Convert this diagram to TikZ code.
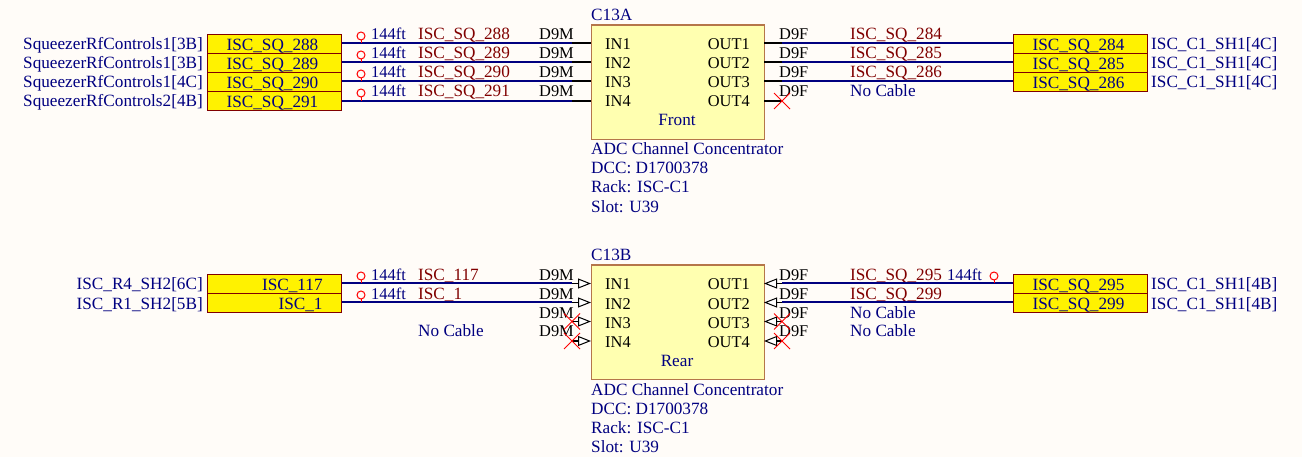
\documentclass[tikz,border=0pt]{standalone}
\usepackage{fontspec}
\setmainfont{Liberation Serif}
\usetikzlibrary{arrows.meta}
\definecolor{bgc}{HTML}{FFFCF8}
\definecolor{navy}{HTML}{000080}
\definecolor{maroon}{HTML}{800000}
\definecolor{boxedge}{HTML}{B5764A}
\definecolor{boxfill}{HTML}{FFFFB0}
\tikzset{
  every node/.style={font=\fontsize{17.2}{19}\selectfont},
  pinfont/.style={font=\fontsize{16.4}{18}\selectfont},
  portbox/.style={draw=maroon,line width=1.2pt,fill=yellow,text=navy,minimum height=19pt,
    text width=96pt,inner xsep=19pt,inner ysep=0pt,text height=16pt,text depth=3pt,anchor=north west,align=left},
  portboxr/.style={portbox,align=right},
  unit/.style={draw=boxedge,line width=1.2pt,fill=boxfill,anchor=north west,minimum width=173pt,minimum height=114.5pt,inner sep=0pt},
  lab/.style={anchor=base west,inner sep=0pt},
  labr/.style={anchor=base east,inner sep=0pt},
  labc/.style={anchor=base,inner sep=0pt},
  navytext/.style={text=navy},
  redtext/.style={text=maroon},
  wire/.style={draw=navy,line width=2pt},
  stub/.style={draw=black,line width=2pt},
  feed/.style={draw=black,line width=1.6pt,-{Triangle[open,fill=white,length=13pt,width=10pt,line width=1pt]}},
  lenmark/.style={draw=red,line width=1pt,circle,minimum size=8pt,inner sep=0pt},
  stem/.style={draw=red,line width=1pt},
  nocon/.style={draw=red,line width=0.8pt},
}
\begin{document}
\begin{tikzpicture}[x=1pt,y=-1pt]
\useasboundingbox (0,0) rectangle (1302,457);
\fill[bgc] (0,0) rectangle (1302,457);

% units
\node[unit] (A) at (591,24.5) {};
\node[unit] (B) at (591,264.5) {};
\node[lab,navytext] (Aname) at (591,20.5) {C13A};
\node[lab,navytext] (Bname) at (591,260.5) {C13B};
\node[labc,navytext] (Afront) at (677,126) {Front};
\node[labc,navytext] (Brear) at (677,366) {Rear};
\foreach \dy/\nm in {0/A,240/B}{
  \node[lab,navytext] (\nm d1) at (591,155+\dy) {ADC Channel Concentrator};
  \node[lab,navytext] (\nm d2) at (591,174+\dy) {DCC: D1700378};
  \node[lab,navytext] (\nm d3) at (591,193+\dy) {Rack: ISC-C1};
  \node[lab,navytext] (\nm d4) at (591,212.5+\dy) {Slot: U39};
}

% pin coordinates and pin names
\foreach \nm/\dy in {A/0,B/240}{
  \foreach \n/\y/\b in {1/43.5/50,2/62.5/69,3/81.5/88,4/101/107}{
    \coordinate (\nm in\n) at (591,\y+\dy);
    \coordinate (\nm inj\n) at (572,\y+\dy);
    \coordinate (\nm out\n) at (764,\y+\dy);
    \coordinate (\nm outj\n) at (782,\y+\dy);
    \node[lab,pinfont] (\nm inl\n) at (605,\b+\dy) {IN\n};
    \node[labr,pinfont] (\nm outl\n) at (750,\b+\dy) {OUT\n};
    \node[lab,pinfont] (\nm dm\n) at (539,\b-10+\dy) {D9M};
    \node[lab,pinfont] (\nm df\n) at (779,\b-10+\dy) {D9F};
  }
}

% ports left, unit A
\node[portbox] (p288) at (207,34) {ISC\_SQ\_288};
\node[portbox] (p289) at (207,53) {ISC\_SQ\_289};
\node[portbox] (p290) at (207,72) {ISC\_SQ\_290};
\node[portbox] (p291) at (207,91) {ISC\_SQ\_291};
% ports right, unit A
\node[portbox] (p284) at (1013,34) {ISC\_SQ\_284};
\node[portbox] (p285) at (1013,53) {ISC\_SQ\_285};
\node[portbox] (p286) at (1013,72) {ISC\_SQ\_286};
% ports unit B
\node[portboxr] (p117) at (207,274) {ISC\_117};
\node[portboxr] (p1) at (207,293) {ISC\_1};
\node[portbox] (p295) at (1013,274) {ISC\_SQ\_295};
\node[portbox] (p299) at (1013,293) {ISC\_SQ\_299};

% outer labels
\node[labr,navytext] (l288) at (203,50) {SqueezerRfControls1[3B]};
\node[labr,navytext] (l289) at (203,69) {SqueezerRfControls1[3B]};
\node[labr,navytext] (l290) at (203,88) {SqueezerRfControls1[4C]};
\node[labr,navytext] (l291) at (203,107) {SqueezerRfControls2[4B]};
\node[lab,navytext] (l284) at (1151,50) {ISC\_C1\_SH1[4C]};
\node[lab,navytext] (l285) at (1151,69) {ISC\_C1\_SH1[4C]};
\node[lab,navytext] (l286) at (1151,88) {ISC\_C1\_SH1[4C]};
\node[labr,navytext] (l117) at (203,290) {ISC\_R4\_SH2[6C]};
\node[labr,navytext] (l1) at (203,309) {ISC\_R1\_SH2[5B]};
\node[lab,navytext] (l295) at (1151,290) {ISC\_C1\_SH1[4B]};
\node[lab,navytext] (l299) at (1151,309) {ISC\_C1\_SH1[4B]};

% cable labels
\node[lab,redtext] (c288) at (418,40) {ISC\_SQ\_288};
\node[lab,redtext] (c289) at (418,59) {ISC\_SQ\_289};
\node[lab,redtext] (c290) at (418,78) {ISC\_SQ\_290};
\node[lab,redtext] (c291) at (418,97) {ISC\_SQ\_291};
\node[lab,redtext] (c284) at (850,40) {ISC\_SQ\_284};
\node[lab,redtext] (c285) at (850,59) {ISC\_SQ\_285};
\node[lab,redtext] (c286) at (850,78) {ISC\_SQ\_286};
\node[lab,navytext] (nc1) at (850,97) {No Cable};
\node[lab,redtext] (c117) at (418,280) {ISC\_117};
\node[lab,redtext] (c1) at (418,299) {ISC\_1};
\node[lab,navytext] (nc2) at (418,337) {No Cable};
\node[lab,redtext] (c295) at (850,280) {ISC\_SQ\_295};
\node[lab,redtext] (c299) at (850,299) {ISC\_SQ\_299};
\node[lab,navytext] (nc3) at (850,318) {No Cable};
\node[lab,navytext] (nc4) at (850,337) {No Cable};

% length markers
\foreach \nm/\y in {288/36,289/55,290/74,291/93,117/276,1/295}{
  \node[lab,navytext,pinfont] (t\nm) at (371,\y+4) {144ft};
  \node[lenmark] (m\nm) at (361,\y) {};
}
\node[lab,navytext,pinfont] (t295) at (947,280) {144ft};
\node[lenmark] (m295) at (994,276) {};

% wires: unit A
\draw[wire] (p288.east |- Ainj1) -- (Ainj1);
\draw[wire] (p289.east |- Ainj2) -- (Ainj2);
\draw[wire] (p290.east |- Ainj3) -- (Ainj3);
\draw[wire] (p291.east |- Ainj4) -- (Ainj4);
\draw[wire] (Aoutj1) -- (p284.west |- Aoutj1);
\draw[wire] (Aoutj2) -- (p285.west |- Aoutj2);
\draw[wire] (Aoutj3) -- (p286.west |- Aoutj3);
\foreach \n in {1,2,3,4}{
  \draw[stub] (Ainj\n) -- (Ain\n);
  \draw[stub] (Aout\n) -- (Aoutj\n);
}
% wires: unit B
\draw[wire] (p117.east |- Binj1) -- (Binj1);
\draw[wire] (p1.east |- Binj2) -- (Binj2);
\draw[wire] (Boutj1) -- (p295.west |- Boutj1);
\draw[wire] (Boutj2) -- (p299.west |- Boutj2);
\foreach \n in {1,2,3,4}{
  \draw[feed] (Binj\n) -- (Bin\n);
  \draw[feed] (Boutj\n) -- (Bout\n);
}
% marker stems
\foreach \nm/\r in {288/Ainj1,289/Ainj2,290/Ainj3,291/Ainj4,117/Binj1,1/Binj2}{
  \draw[stem] (m\nm.south) -- (m\nm.south |- \r);
}
\draw[stem] (m295.south) -- (m295.south |- Boutj1);

% no-connect crosses
\foreach \c in {Aoutj4,Binj3,Binj4,Boutj3,Boutj4}{
  \draw[nocon] ([shift={(-8,-8)}]\c) -- ([shift={(8,8)}]\c);
  \draw[nocon] ([shift={(-8,8)}]\c) -- ([shift={(8,-8)}]\c);
}
\end{tikzpicture}
\end{document}
